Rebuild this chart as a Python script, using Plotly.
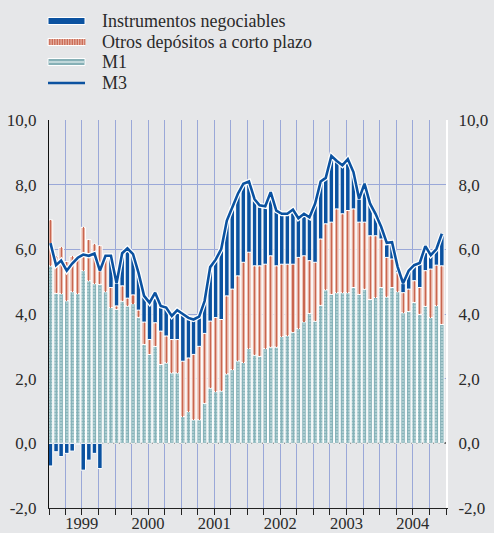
import numpy as np
import pandas as pd
import plotly.graph_objects as go

# ---------------- data (annual % change contributions, monthly 1999-2004) -------------
months = pd.date_range("1999-01-01", periods=72, freq="MS")

m1 = [5.49, 4.64, 4.63, 4.41, 4.69, 4.63, 5.34, 5.03, 4.94, 4.92, 4.69, 4.20,
      4.15, 4.40, 4.25, 4.32, 3.90, 3.06, 2.75, 3.00, 2.44, 2.49, 2.18, 2.18,
      0.83, 0.98, 0.73, 0.73, 1.24, 1.71, 1.60, 1.62, 2.15, 2.28, 2.55, 2.50,
      2.93, 2.73, 2.69, 2.93, 2.98, 2.98, 3.30, 3.33, 3.44, 3.55, 3.76, 4.02,
      3.78, 4.27, 4.75, 4.61, 4.66, 4.66, 4.66, 4.82, 4.61, 4.77, 4.45, 4.51,
      4.82, 4.53, 4.82, 4.69, 4.04, 4.08, 4.36, 3.99, 4.24, 3.89, 4.26, 3.68]

otros = [1.42, 1.14, 1.43, 1.21, 1.09, 1.12, 1.34, 1.27, 1.22, 1.19, 0.99, 0.62,
         0.10, 0.47, 0.24, 0.27, 0.22, 0.69, 0.46, 0.73, 1.03, 0.83, 1.03, 1.03,
         1.71, 1.66, 2.02, 2.27, 2.16, 2.07, 2.29, 2.21, 2.41, 2.49, 2.63, 3.10,
         2.98, 2.76, 2.80, 2.61, 2.82, 2.51, 2.24, 2.21, 2.10, 2.20, 2.04, 1.63,
         1.82, 2.05, 2.04, 2.23, 2.59, 2.44, 2.54, 2.43, 2.23, 2.07, 1.97, 1.91,
         1.50, 1.22, 0.88, 0.59, 0.62, 0.69, 0.67, 0.83, 1.10, 1.50, 1.25, 1.81]

instr = [-0.70, -0.26, -0.41, -0.31, -0.24, -0.03, -0.83, -0.52, -0.31, -0.78, 0.12, 0.98,
         0.70, 1.01, 1.54, 1.26, 1.16, 0.81, 1.14, 0.93, 0.78, 0.88, 0.73, 0.91,
         1.46, 1.24, 1.08, 0.92, 1.00, 1.67, 1.79, 2.18, 2.33, 2.54, 2.54, 2.43,
         2.19, 2.06, 1.87, 1.79, 1.97, 1.71, 1.56, 1.56, 1.69, 1.21, 1.30, 1.34,
         1.81, 1.78, 1.42, 2.05, 1.48, 1.50, 1.59, 1.14, 0.72, 1.19, 0.99, 0.68,
         0.38, 0.45, 0.52, 0.18, 0.29, 0.57, 0.48, 0.76, 0.76, 0.43, 0.50, 0.99]

m3 = [6.19, 5.51, 5.65, 5.34, 5.56, 5.74, 5.84, 5.80, 5.87, 5.34, 5.80, 5.80,
      4.95, 5.88, 6.03, 5.85, 5.28, 4.56, 4.35, 4.66, 4.25, 4.20, 3.94, 4.12,
      4.00, 3.88, 3.83, 3.92, 4.40, 5.45, 5.68, 6.01, 6.89, 7.31, 7.72, 8.03,
      8.10, 7.55, 7.36, 7.33, 7.77, 7.20, 7.10, 7.10, 7.23, 6.96, 7.10, 6.99,
      7.41, 8.10, 8.21, 8.89, 8.73, 8.60, 8.79, 8.39, 7.56, 8.03, 7.41, 7.10,
      6.70, 6.20, 6.22, 5.46, 4.95, 5.34, 5.51, 5.58, 6.10, 5.82, 6.01, 6.48]

years = ["1999", "2000", "2001", "2002", "2003", "2004"]
y_ticks = [-2, 0, 2, 4, 6, 8, 10]
y_tick_labels = ["-2,0", "0,0", "2,0", "4,0", "6,0", "8,0", "10,0"]

names = ["Instrumentos negociables", "Otros depósitos a corto plazo", "M1", "M3"]

# ---------------- styling ----------------
W, H = 494, 533
ML, MR, MT, MB = 49, 48, 120, 25
PW, PH = W - ML - MR, H - MT - MB

BG = "#e6e7e9"
BLUE = "#0b52a0"
SALMON = "#e6b1a3"
SALMON_DARK = "#c9664f"
TEAL_BG = "#a9cbcf"
TEAL_FG = "#5f96a0"
GRID = "#9aa8d8"
TXT = "#2a2a2a"
FONT = "Liberation Serif"

m1_a = np.array(m1)
otros_a = np.array(otros)
instr_a = np.array(instr)
base_instr = np.where(instr_a >= 0, m1_a + otros_a, 0.0)

x = months + pd.Timedelta(days=8)
day = 86400000
w_bar = 25 * day
w_stripe = 6 * day

fig = go.Figure()

fig.add_trace(go.Bar(
    x=x, y=m1, base=0, width=w_bar, name=names[2], hoverinfo="skip",
    marker=dict(color=TEAL_BG, line=dict(color="white", width=1),
                pattern=dict(shape="+", fgcolor=TEAL_FG, bgcolor=TEAL_BG,
                             size=3, solidity=0.5)),
))
fig.add_trace(go.Bar(
    x=x, y=otros, base=m1, width=w_bar, name=names[1], hoverinfo="skip",
    marker=dict(color=SALMON, line=dict(color="white", width=1)),
))
fig.add_trace(go.Bar(
    x=x, y=otros, base=m1, width=w_stripe, name=names[1], hoverinfo="skip",
    marker=dict(color=SALMON_DARK, line=dict(width=0)),
))
fig.add_trace(go.Bar(
    x=x, y=instr, base=base_instr, width=w_bar, name=names[0], hoverinfo="skip",
    marker=dict(color=BLUE, line=dict(color="white", width=1)),
))
# M3 line with white halo
fig.add_trace(go.Scatter(
    x=x, y=m3, mode="lines", name=names[3], hoverinfo="skip",
    line=dict(color="white", width=5),
))
fig.add_trace(go.Scatter(
    x=x, y=m3, mode="lines", name=names[3], hoverinfo="skip",
    line=dict(color=BLUE, width=2.6),
))

# invisible trace for right axis
fig.add_trace(go.Scatter(x=[x[0]], y=[0], yaxis="y2", mode="markers",
                         marker=dict(opacity=0), hoverinfo="skip"))


# ---------------- custom legend (pixel layout -> paper coords) ----------------
def px(xp):
    return (xp - ML) / PW


def py(yp):
    return (H - MB - yp) / PH


shapes = []
annotations = []
row_y = [21, 42, 62, 83]
sx0, sx1 = 48, 85
for i, (nm, yy) in enumerate(zip(names, row_y)):
    annotations.append(dict(
        text=nm, x=px(100), y=py(yy), xref="paper", yref="paper",
        xanchor="left", yanchor="middle", showarrow=False,
        font=dict(family=FONT, size=18, color=TXT),
    ))
    if i == 0:
        shapes.append(dict(type="rect", xref="paper", yref="paper",
                           x0=px(sx0), x1=px(sx1), y0=py(yy + 3.5), y1=py(yy - 3.5),
                           fillcolor=BLUE, line=dict(color="white", width=1)))
    elif i == 1:
        shapes.append(dict(type="rect", xref="paper", yref="paper",
                           x0=px(sx0), x1=px(sx1), y0=py(yy + 3.5), y1=py(yy - 3.5),
                           fillcolor=SALMON, line=dict(color="white", width=1)))
        for k in range(15):
            xs = sx0 + 1.8 + k * 2.5
            shapes.append(dict(type="line", xref="paper", yref="paper",
                               x0=px(xs), x1=px(xs), y0=py(yy + 3), y1=py(yy - 3),
                               line=dict(color=SALMON_DARK, width=1.2)))
    elif i == 2:
        shapes.append(dict(type="rect", xref="paper", yref="paper",
                           x0=px(sx0), x1=px(sx1), y0=py(yy + 3.5), y1=py(yy - 3.5),
                           fillcolor="#86b0b6", line=dict(color="white", width=1)))
        shapes.append(dict(type="line", xref="paper", yref="paper",
                           x0=px(sx0 + 1), x1=px(sx1 - 1), y0=py(yy), y1=py(yy),
                           line=dict(color="#d3e4e6", width=1.5)))
    else:
        shapes.append(dict(type="line", xref="paper", yref="paper",
                           x0=px(sx0), x1=px(sx1), y0=py(yy), y1=py(yy),
                           line=dict(color=BLUE, width=2.5)))

start = pd.Timestamp("1999-01-01")
end = pd.Timestamp("2005-01-01")
quarters = pd.date_range(start, end, freq="QS")
year_mid = [pd.Timestamp(f"{y}-07-01") for y in years]

fig.update_layout(
    width=W, height=H,
    margin=dict(l=ML, r=MR, t=MT, b=MB, autoexpand=False),
    paper_bgcolor=BG, plot_bgcolor=BG,
    barmode="overlay", bargap=0,
    font=dict(family=FONT, size=17, color=TXT),
    showlegend=False,
    hovermode=False,
    shapes=shapes,
    annotations=annotations,
    xaxis=dict(
        type="date", range=[start, end],
        tickmode="array", tickvals=year_mid, ticktext=years,
        ticks="", showgrid=False, zeroline=False,
        showline=True, linecolor="#222", linewidth=1,
        ticklabelstandoff=0, tickangle=0,
        tickfont=dict(family=FONT, size=16.5, color=TXT),
        minor=dict(tickmode="array", tickvals=list(quarters), ticks="outside",
                   ticklen=6, tickcolor="#222", tickwidth=1,
                   showgrid=True, gridcolor=GRID, gridwidth=1),
    ),
    yaxis=dict(
        range=[-2, 10], tickmode="array", tickvals=y_ticks, ticktext=y_tick_labels,
        showgrid=True, gridcolor=GRID, gridwidth=1,
        zeroline=True, zerolinecolor="#6b6b6b", zerolinewidth=2,
        showline=True, linecolor="#111", linewidth=1,
        ticks="", ticklabelstandoff=8,
    ),
    yaxis2=dict(
        range=[-2, 10], overlaying="y", side="right",
        tickmode="array", tickvals=y_ticks, ticktext=y_tick_labels,
        showgrid=False, zeroline=False,
        showline=True, linecolor="white", linewidth=2,
        ticks="", ticklabelstandoff=7,
    ),
)

fig.write_html(
    "out.html",
    config={"displayModeBar": False, "staticPlot": True},
    post_script="document.body.style.margin='0px';document.body.style.padding='0px';"
                "document.body.style.background='" + BG + "';",
)
